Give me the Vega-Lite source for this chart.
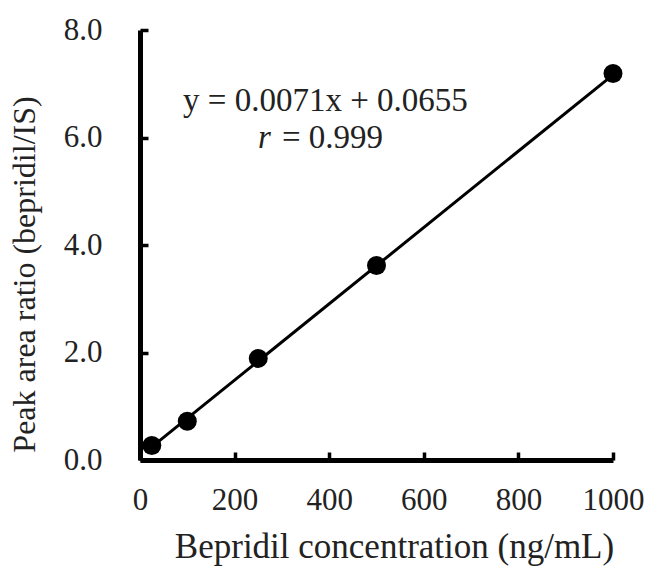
{
  "$schema": "https://vega.github.io/schema/vega-lite/v6.json",
  "width": 473,
  "height": 430,
  "autosize": {"type": "none"},
  "padding": {"left": 140, "top": 30, "right": 36, "bottom": 108},
  "background": "white",
  "config": {
    "view": {"stroke": null},
    "font": "Liberation Serif",
    "axis": {
      "grid": false,
      "domainColor": "black",
      "domainWidth": 5,
      "tickColor": "black",
      "tickWidth": 3.5,
      "tickSize": -8,
      "labelFlush": false,
      "labelOverlap": false,
      "labelFont": "Liberation Serif",
      "labelFontSize": 31,
      "labelColor": "#222",
      "titleFont": "Liberation Serif",
      "titleFontSize": 35,
      "titleFontWeight": "normal",
      "titleColor": "#222"
    }
  },
  "datasets": {
    "points": [
      {"conc": 25, "ratio": 0.27},
      {"conc": 100, "ratio": 0.72},
      {"conc": 250, "ratio": 1.89},
      {"conc": 500, "ratio": 3.62},
      {"conc": 1000, "ratio": 7.19}
    ],
    "fit": [
      {"conc": 25, "ratio": 0.243},
      {"conc": 1000, "ratio": 7.166}
    ],
    "notes": [
      {"conc": 392, "ratio": 6.68, "label": "y = 0.0071x + 0.0655", "part": "eq"},
      {"conc": 300, "ratio": 6.0, "label": "= 0.999", "part": "r"}
    ]
  },
  "layer": [
    {
      "data": {"name": "fit"},
      "mark": {"type": "line", "color": "black", "strokeWidth": 3},
      "encoding": {
        "x": {
          "field": "conc", "type": "quantitative",
          "scale": {"domain": [0, 1000], "nice": false},
          "axis": {"values": [0, 200, 400, 600, 800, 1000], "format": "d", "labelPadding": 33, "title": "Bepridil concentration (ng/mL)", "titlePadding": 14, "titleX": 254}
        },
        "y": {
          "field": "ratio", "type": "quantitative",
          "scale": {"domain": [0, 8], "nice": false},
          "axis": {"values": [0, 2, 4, 6, 8], "format": ".1f", "labelPadding": 46, "title": "Peak area ratio (bepridil/IS)", "titlePadding": 22, "titleFontSize": 32, "titleY": 244}
        }
      }
    },
    {
      "data": {"name": "points"},
      "mark": {"type": "point", "filled": true, "color": "black", "opacity": 1, "size": 360},
      "encoding": {
        "x": {"field": "conc", "type": "quantitative"},
        "y": {"field": "ratio", "type": "quantitative"}
      }
    },
    {
      "data": {"name": "notes"},
      "transform": [{"filter": "datum.part == 'eq'"}],
      "mark": {"type": "text", "font": "Liberation Serif", "fontSize": 33, "color": "#222", "align": "center", "baseline": "middle"},
      "encoding": {
        "x": {"field": "conc", "type": "quantitative"},
        "y": {"field": "ratio", "type": "quantitative"},
        "text": {"field": "label"}
      }
    },
    {
      "data": {"values": [{"conc": 249.5, "ratio": 6.0, "label": "r"}]},
      "mark": {"type": "text", "font": "Liberation Serif", "fontSize": 33, "fontStyle": "italic", "color": "#222", "align": "left", "baseline": "middle"},
      "encoding": {
        "x": {"field": "conc", "type": "quantitative"},
        "y": {"field": "ratio", "type": "quantitative"},
        "text": {"field": "label"}
      }
    },
    {
      "data": {"name": "notes"},
      "transform": [{"filter": "datum.part == 'r'"}],
      "mark": {"type": "text", "font": "Liberation Serif", "fontSize": 33, "color": "#222", "align": "left", "baseline": "middle"},
      "encoding": {
        "x": {"field": "conc", "type": "quantitative"},
        "y": {"field": "ratio", "type": "quantitative"},
        "text": {"field": "label"}
      }
    }
  ]
}
